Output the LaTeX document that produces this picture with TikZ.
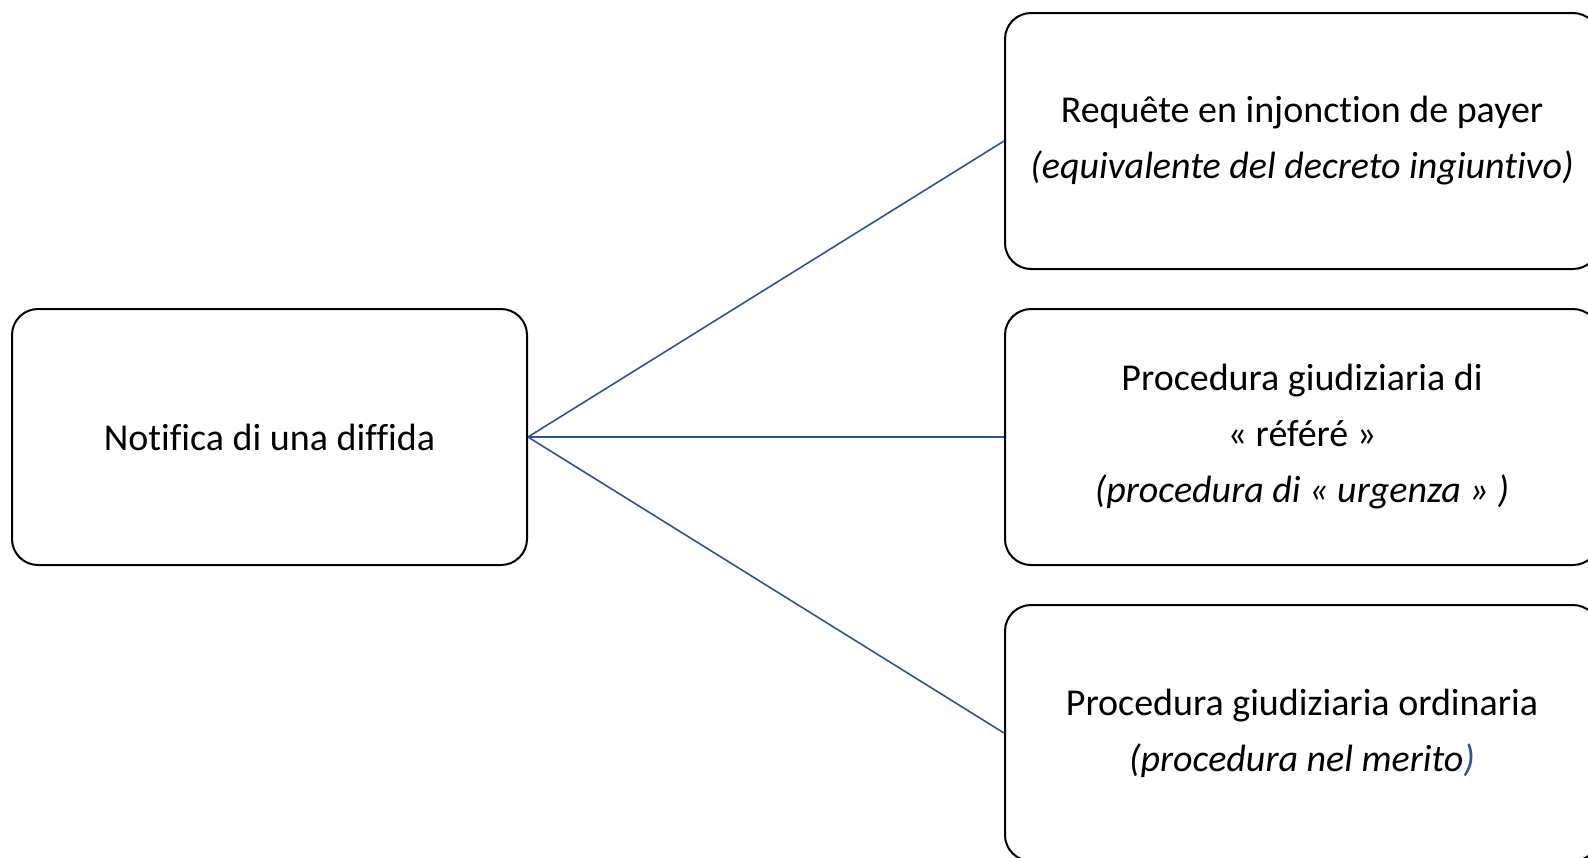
\documentclass[tikz,border=0pt]{standalone}
\usepackage{fontspec}
\setmainfont{Carlito}[Ligatures=NoCommon]
\usetikzlibrary{calc}
\definecolor{linkblue}{RGB}{52,80,150}
\newcommand*{\bh}{256}
\newcommand*{\lh}{56}
\tikzset{
	step box/.style={
		rectangle,
		rounded corners=26pt,
		draw=black,
		line width=2pt,
		minimum height=\bh pt,
		align=center,
		inner sep=0pt,
		font=\fontsize{38}{\lh}\selectfont
	},
	start box/.style={
		step box,
		minimum width=515pt
	},
	end box/.style={
		step box,
		minimum width=594pt
	},
	link/.style={
		draw=linkblue,
		line width=1.6pt
	}
	}

\begin{document}
\begin{tikzpicture}[x=1pt,y=-1pt]
	\useasboundingbox (0,0) rectangle (1588,857);
	\node (notifica) [start box] at (269.5,437) {Notifica di una diffida};
	\node (injonction) [end box] at (1302,141) {Requête en injonction de payer\\\textit{(equivalente del decreto ingiuntivo)}};
	\node (refere) [end box] at (1302,437) {Procedura giudiziaria di\\« référé »\\\textit{(procedura di « urgenza » )}};
	\node (merito) [end box] at (1302,733) {Procedura giudiziaria ordinaria\\\textit{(procedura nel merito\textcolor{linkblue}{)}}};
	\foreach \target in {injonction,refere,merito} {
		\draw [link] (notifica.east) -- (\target.west);
	};
\end{tikzpicture}
\end{document}
